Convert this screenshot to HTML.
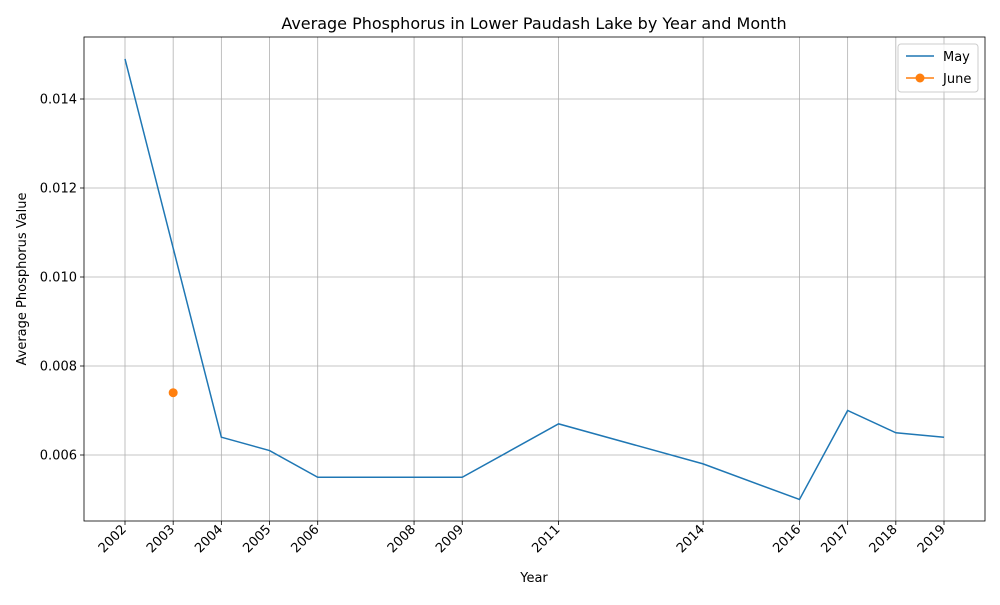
<!DOCTYPE html>
<html><head><meta charset="utf-8"><style>
body{margin:0;background:#fff;font-family:"Liberation Sans","DejaVu Sans",sans-serif}
</style></head><body>
<svg id="chart" width="1000" height="600" xmlns="http://www.w3.org/2000/svg" font-family="DejaVu Sans, Liberation Sans, sans-serif">
<rect width="1000" height="600" fill="#fff"/>
<g id="grid"></g>
<g id="axes"></g>
<g id="series"></g>
<text x="534" y="29" text-anchor="middle" font-size="16">Average Phosphorus in Lower Paudash Lake by Year and Month</text>
<text x="534" y="582" text-anchor="middle" font-size="13">Year</text>
<text transform="translate(26,279) rotate(-90)" text-anchor="middle" font-size="13">Average Phosphorus Value</text>
<g>
<rect x="898" y="44" width="80" height="48" fill="#fff" fill-opacity="0.8" stroke="#ccc" rx="3"/>
<line x1="906" y1="56" x2="934" y2="56" stroke="#1f77b4" stroke-width="1.5"/>
<text x="943" y="61" font-size="13">May</text>
<line x1="906" y1="78" x2="934" y2="78" stroke="#ff7f0e" stroke-width="1.5"/>
<circle cx="920" cy="78" r="4.5" fill="#ff7f0e"/>
<text x="943" y="83" font-size="13">June</text>
</g>
</svg>
<script>
const tickYears=[2002,2003,2004,2005,2006,2008,2009,2011,2014,2016,2017,2018,2019];
const yTicks=[0.006,0.008,0.010,0.012,0.014];
const yTickLabels=["0.006","0.008","0.010","0.012","0.014"];
const mayYears=[2002,2004,2005,2006,2008,2009,2011,2014,2016,2017,2018,2019];
const mayValues=[0.0149,0.0064,0.0061,0.0055,0.0055,0.0055,0.0067,0.0058,0.0050,0.0070,0.0065,0.0064];
const juneYears=[2003];
const juneValues=[0.0074];
const NS="http://www.w3.org/2000/svg";
const L=84,R=985,T=37,B=521;
const xs=y=>125+(y-2002)*(944-125)/17;
const ys=v=>455-(v-0.006)*44500;
function mk(tag,attrs,parent){const e=document.createElementNS(NS,tag);for(const k in attrs)e.setAttribute(k,attrs[k]);document.getElementById(parent).appendChild(e);return e;}
tickYears.forEach(y=>{
 const g=mk('line',{x1:xs(y),x2:xs(y),y1:T,y2:B,stroke:'#b0b0b0','stroke-width':0.8},'grid');
 
 
 mk('line',{x1:xs(y),x2:xs(y),y1:B,y2:B+4,stroke:'#000','stroke-width':0.8},'axes');
 const t=mk('text',{x:0,y:0,'font-size':13,'text-anchor':'end',transform:`translate(${xs(y)+2},${B+9}) rotate(-45)`},'axes');
 t.textContent=y;
 
 
});
yTicks.forEach((v,i)=>{
 const g=mk('line',{x1:L,x2:R,y1:ys(v),y2:ys(v),stroke:'#b0b0b0','stroke-width':0.8},'grid');
 
 
 mk('line',{x1:L-4,x2:L,y1:ys(v),y2:ys(v),stroke:'#000','stroke-width':0.8},'axes');
 const t=mk('text',{x:L-7,y:ys(v)+4.5,'font-size':13,'text-anchor':'end'},'axes');
 t.textContent=yTickLabels[i];
 
 
});
const fr=mk('rect',{x:L,y:T,width:R-L,height:B-T,fill:'none',stroke:'#000','stroke-width':0.8},'axes');


const pl=mk('polyline',{points:mayYears.map((y,i)=>xs(y)+','+ys(mayValues[i])).join(' '),fill:'none',stroke:'#1f77b4','stroke-width':1.5},'series');


juneYears.forEach((y,i)=>{
 const c=mk('circle',{cx:xs(y),cy:ys(juneValues[i]),r:4.5,fill:'#ff7f0e'},'series');
 
 
});
</script>
</body></html>
